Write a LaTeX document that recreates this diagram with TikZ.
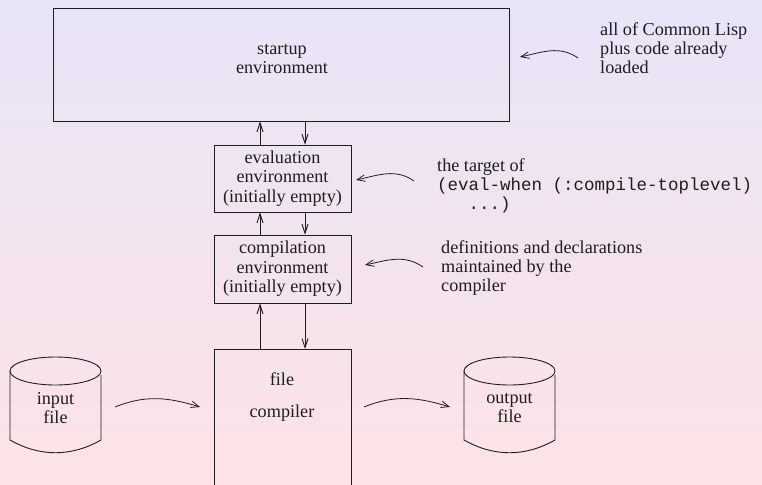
\documentclass[tikz,border=0pt]{standalone}
\usepackage{fontspec}
\setmainfont{Liberation Serif}
\setmonofont{Liberation Mono}
\usetikzlibrary{arrows.meta}
\definecolor{bgtop}{RGB}{232,228,248}
\definecolor{bgbot}{RGB}{253,227,230}
\definecolor{ink}{RGB}{30,30,30}
\newcommand{\codefont}{\fontsize{17.5}{19.5}\selectfont\ttfamily}
\tikzset{
  every picture/.style={x=1pt,y=1pt},
  txt/.style={font=\fontsize{18.2}{19.6}\selectfont, align=center, inner sep=0pt, text=ink},
  note/.style={font=\fontsize{18.2}{19.2}\selectfont, align=left, inner sep=0pt, anchor=west, text=ink},
  envbox/.style={draw=ink, line width=0.9pt, minimum width=137pt, inner sep=0pt},
  flow/.style={draw=ink, line width=0.9pt, -{Straight Barb[length=9pt,width=6pt]}},
  curved/.style={draw=ink, line width=0.8pt, -{Straight Barb[length=8pt,width=6.5pt]}},
  drum/.style={draw=ink, line width=0.9pt},
}
\begin{document}
\begin{tikzpicture}
\shade[top color=bgtop, bottom color=bgbot] (0,0) rectangle (762,-484);
\useasboundingbox (0,0) rectangle (762,-484);
\clip (0,0) rectangle (762,-484);

% boxes
\node[envbox, minimum width=456pt, minimum height=113pt] (startup) at (281,-64.5) {};
\node[txt] (startuptxt) at (282,-59) {startup\\environment};
\node[envbox, minimum height=67pt, txt, draw=ink, line width=0.9pt, minimum width=137pt] (eval) at (282.5,-178.5) {evaluation\\environment\\(initially empty)};
\node[envbox, minimum height=68pt, txt, draw=ink, line width=0.9pt, minimum width=137pt] (comp) at (282.5,-269) {compilation\\environment\\(initially empty)};
\node[envbox, minimum height=151pt, anchor=north] (fc) at (282.5,-349) {};
\node[txt] (fctxt) at (282,-397) {file\\[12pt]compiler};

% vertical arrow columns
\coordinate (ux) at (260,0);
\coordinate (dx) at (305,0);
\draw[flow] (eval.north -| ux) -- (startup.south -| ux);
\draw[flow] (startup.south -| dx) -- (eval.north -| dx);
\draw[flow] (comp.north -| ux) -- (eval.south -| ux);
\draw[flow] (eval.south -| dx) -- (comp.north -| dx);
\draw[flow] (fc.north -| ux) -- (comp.south -| ux);
\draw[flow] (comp.south -| dx) -- (fc.north -| dx);

% cylinders
\draw[drum] (10,-371) -- (10,-440) .. controls (40,-457) and (71,-457) .. (101,-440) -- (101,-375);
\draw[drum] (55.5,-371) ellipse (45.5 and 14);
\node[txt] (infile) at (55.5,-408) {input\\file};
\draw[drum] (464,-371) -- (464,-440) .. controls (494,-457) and (525,-457) .. (555,-440) -- (555,-375);
\draw[drum] (509.5,-371) ellipse (45.5 and 14);
\node[txt] (outfile) at (509.5,-408) {output\\file};

% flow arrows at the bottom
\coordinate (a1s) at (115,-407);
\coordinate (a1e) at (200,-407);
\coordinate (a2s) at (364,-407);
\coordinate (a2e) at (450,-407);
\draw[curved] (a1s) to[out=22,in=163] (a1e);
\draw[curved] (a2s) to[out=22,in=163] (a2e);

% annotations
\node[note] (n1) at (600,-48) {all of Common Lisp\\plus code already\\loaded};
\node[note] (n2) at (437,-186) {the target of\\{\codefont (eval-when (:compile-toplevel)}\\{\codefont\phantom{xxx}...)}};
\node[note] (n3) at (441,-268) {definitions and declarations\\maintained by the\\compiler};

\coordinate (c1s) at (578,-58);
\coordinate (c1e) at (520,-57);
\coordinate (c2s) at (414,-181);
\coordinate (c2e) at (356,-180);
\coordinate (c3s) at (423,-267);
\coordinate (c3e) at (365,-265);
\draw[curved] (c1s) to[out=145,in=12] (c1e);
\draw[curved] (c2s) to[out=145,in=12] (c2e);
\draw[curved] (c3s) to[out=145,in=12] (c3e);
\end{tikzpicture}
\end{document}
